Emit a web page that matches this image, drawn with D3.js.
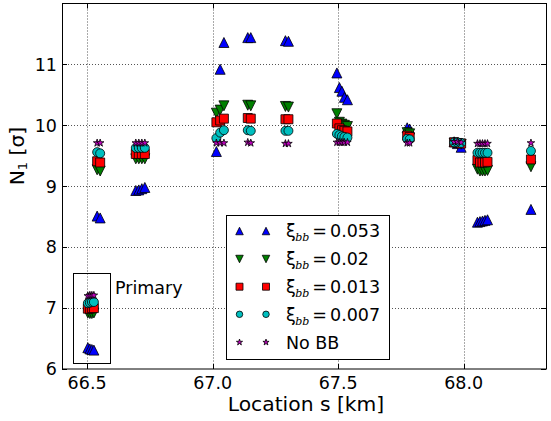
<!DOCTYPE html>
<html>
<head>
<meta charset="utf-8">
<script src="https://cdn.jsdelivr.net/npm/d3@7"></script>
<style>
  html, body { margin: 0; padding: 0; background: #fff; }
  svg { display: block; font-family: "DejaVu Sans", sans-serif; }
</style>
</head>
<body>
<svg id="chart" width="551" height="421"></svg>
<script>
// Beam locations along the ring [km]
const locations = [
  66.503, 66.511, 66.519, 66.527,
  66.540, 66.552,
  66.694, 66.706, 66.718, 66.730,
  67.015, 67.030, 67.045,
  67.140, 67.152,
  67.290, 67.302,
  67.495, 67.505, 67.515, 67.525, 67.537,
  67.775, 67.785,
  67.962, 67.975, 67.990,
  68.055, 68.065, 68.075, 68.085, 68.095,
  68.268
];

// N1 aperture [sigma] for each beam-beam parameter
const xi053 = [
  6.35, 6.33, 6.32, 6.31,
  8.51, 8.48,
  8.93, 8.94, 8.96, 8.98,
  9.57, 10.92, 11.36,
  11.44, 11.44,
  11.39, 11.38,
  10.86, 10.62, 10.56, 10.46, 10.42,
  9.96, 9.94,
  9.73, 9.70, 9.64,
  8.41, 8.42, 8.43, 8.44, 8.45,
  8.62
];
const xi02 = [
  6.92, 6.91, 6.91, 6.92,
  9.27, 9.25,
  9.45, 9.45, 9.45, 9.45,
  10.20, 10.25, 10.32,
  10.33, 10.32,
  10.31, 10.30,
  10.19, 10.05, 10.02, 10.00, 9.98,
  9.88, 9.86,
  9.71, 9.70, 9.69,
  9.28, 9.25, 9.25, 9.25, 9.26,
  9.32
];
const xi013 = [
  6.99, 6.99, 7.00, 7.00,
  9.41, 9.39,
  9.53, 9.53, 9.53, 9.53,
  10.05, 10.08, 10.11,
  10.12, 10.11,
  10.10, 10.10,
  10.03, 9.95, 9.92, 9.91, 9.90,
  9.83, 9.81,
  9.72, 9.71, 9.70,
  9.43, 9.39, 9.39, 9.39, 9.40,
  9.44
];
const xi007 = [
  7.08, 7.09, 7.10, 7.10,
  9.56, 9.54,
  9.63, 9.63, 9.63, 9.63,
  9.79, 9.88, 9.92,
  9.92, 9.91,
  9.91, 9.91,
  9.86, 9.84, 9.82, 9.81, 9.80,
  9.78, 9.77,
  9.72, 9.72, 9.71,
  9.55, 9.55, 9.55, 9.55, 9.55,
  9.58
];
const noBB = [
  7.20, 7.21, 7.21, 7.21,
  9.71, 9.71,
  9.71, 9.71, 9.71, 9.71,
  9.71, 9.71, 9.71,
  9.72, 9.71,
  9.70, 9.70,
  9.72, 9.72, 9.72, 9.72, 9.72,
  9.71, 9.71,
  9.73, 9.73, 9.72,
  9.70, 9.70, 9.70, 9.70, 9.70,
  9.71
];

const xTicks = [66.5, 67.0, 67.5, 68.0];
const xTickLabels = ["66.5", "67.0", "67.5", "68.0"];
const yTicks = [6, 7, 8, 9, 10, 11];
const yTickLabels = ["6", "7", "8", "9", "10", "11"];

// Marker path builders (centered at 0,0)
const markers = {
  up: s => { const h = s / 2; return `M0,${-h}L${h},${h}L${-h},${h}Z`; },
  down: s => { const h = s / 2; return `M0,${h}L${h},${-h}L${-h},${-h}Z`; },
  square: s => { const h = s / 2; return `M${-h},${-h}H${h}V${h}H${-h}Z`; },
  circle: s => { const r = s / 2; return `M${r},0A${r},${r} 0 1,1 ${-r},0A${r},${r} 0 1,1 ${r},0Z`; },
  star: s => {
    const R = s / 2, r = R * 0.382;
    let p = "";
    for (let i = 0; i < 10; i++) {
      const a = -Math.PI / 2 + i * Math.PI / 5;
      const rad = i % 2 === 0 ? R : r;
      p += (i === 0 ? "M" : "L") + (rad * Math.cos(a)).toFixed(2) + "," + (rad * Math.sin(a)).toFixed(2);
    }
    return p + "Z";
  }
};

const series = [
  { values: xi053, marker: "up",     color: "#0000ff", size: 10, legendSize: 7.5, label: "0.053" },
  { values: xi02,  marker: "down",   color: "#008000", size: 10, legendSize: 7.5, label: "0.02" },
  { values: xi013, marker: "square", color: "#ff0000", size: 9,  legendSize: 7,   label: "0.013" },
  { values: xi007, marker: "circle", color: "#00bfbf", size: 9,  legendSize: 6.5, label: "0.007" },
  { values: noBB,  marker: "star",   color: "#bf00bf", size: 8,  legendSize: 6.5, label: null }
];

const svg = d3.select("#chart");
const plot = { left: 62, right: 546, top: 3.5, bottom: 369 };

const x = d3.scaleLinear().domain([66.4, 68.328]).range([plot.left, plot.right]);
const y = d3.scaleLinear().domain([6, 12]).range([plot.bottom, plot.top]);

// Dotted grid
const grid = svg.append("g");
grid.selectAll("line.gx").data(xTicks).join("line")
  .attr("x1", d => Math.round(x(d)) + 0.5).attr("x2", d => Math.round(x(d)) + 0.5)
  .attr("y1", plot.top).attr("y2", plot.bottom)
  .attr("stroke", "#555").attr("stroke-width", 1).attr("stroke-dasharray", "1,2");
grid.selectAll("line.gy").data(yTicks.slice(1)).join("line")
  .attr("y1", d => Math.round(y(d)) + 0.5).attr("y2", d => Math.round(y(d)) + 0.5)
  .attr("x1", plot.left).attr("x2", plot.right)
  .attr("stroke", "#555").attr("stroke-width", 1).attr("stroke-dasharray", "1,2");

// Data markers
series.forEach(s => {
  svg.append("g").selectAll("path").data(locations).join("path")
    .attr("d", markers[s.marker](s.size))
    .attr("transform", (d, i) => `translate(${x(d)},${y(s.values[i])})`)
    .attr("fill", s.color)
    .attr("stroke", "#000")
    .attr("stroke-width", 0.8);
});

// Frame
svg.append("rect")
  .attr("x", plot.left + 0.5).attr("y", plot.top)
  .attr("width", plot.right - plot.left).attr("height", plot.bottom - plot.top)
  .attr("fill", "none").attr("stroke", "#000").attr("stroke-width", 1);

// Inward ticks on all sides
const tickLen = 5;
const ticks = svg.append("g").attr("stroke", "#000").attr("stroke-width", 1);
xTicks.forEach(t => {
  const px = Math.round(x(t)) + 0.5;
  ticks.append("line").attr("x1", px).attr("x2", px).attr("y1", plot.bottom).attr("y2", plot.bottom - tickLen);
  ticks.append("line").attr("x1", px).attr("x2", px).attr("y1", plot.top).attr("y2", plot.top + tickLen);
});
yTicks.forEach(t => {
  const py = Math.round(y(t)) + 0.5;
  ticks.append("line").attr("y1", py).attr("y2", py).attr("x1", plot.left).attr("x2", plot.left + tickLen);
  ticks.append("line").attr("y1", py).attr("y2", py).attr("x1", plot.right).attr("x2", plot.right - tickLen);
});

// Tick labels
svg.append("g").selectAll("text").data(xTicks).join("text")
  .attr("x", d => x(d)).attr("y", 389)
  .attr("text-anchor", "middle").attr("font-size", 17.5)
  .text((d, i) => xTickLabels[i]);
svg.append("g").selectAll("text").data(yTicks).join("text")
  .attr("x", 57).attr("y", d => y(d) + 6.3)
  .attr("text-anchor", "end").attr("font-size", 17.5)
  .text((d, i) => yTickLabels[i]);

// Axis titles
svg.append("text")
  .attr("x", 306).attr("y", 411)
  .attr("text-anchor", "middle").attr("font-size", 20.3)
  .text("Location s [km]");

const yTitle = svg.append("text")
  .attr("transform", "translate(24,156) rotate(-90)")
  .attr("text-anchor", "middle").attr("font-size", 20.3);
yTitle.append("tspan").text("N");
yTitle.append("tspan").attr("font-size", 13).attr("dy", 3).text("1");
yTitle.append("tspan").attr("dy", -3).text(" [σ]");

// Highlight box around the primary location
svg.append("rect")
  .attr("x", 73.5).attr("y", 273.5).attr("width", 37).attr("height", 90)
  .attr("fill", "none").attr("stroke", "#000").attr("stroke-width", 1);
svg.append("text")
  .attr("x", 115).attr("y", 294).attr("font-size", 17.5)
  .text("Primary");

// Legend
const legend = svg.append("g");
legend.append("rect")
  .attr("x", 226.5).attr("y", 215.5).attr("width", 163).attr("height", 144)
  .attr("fill", "#fff").attr("stroke", "#000").attr("stroke-width", 1);
const rowY = [231, 259, 286.7, 314.3, 342.3];
series.forEach((s, i) => {
  [239.5, 266].forEach(mx => {
    legend.append("path")
      .attr("d", markers[s.marker](s.legendSize))
      .attr("transform", `translate(${mx},${rowY[i]})`)
      .attr("fill", s.color).attr("stroke", "#000").attr("stroke-width", 0.8);
  });
  const t = legend.append("text")
    .attr("x", 286).attr("y", rowY[i] + 6.3).attr("font-size", 17.5);
  if (s.label) {
    t.append("tspan").text("ξ");
    t.append("tspan").attr("font-size", 11).attr("font-style", "italic")
      .attr("font-family", "DejaVu Serif").attr("dy", 4).attr("dx", -0.5).text("bb");
    t.append("tspan").attr("dy", -4).attr("dx", 3).text("=");
    t.append("tspan").attr("dx", 3).text(s.label);
  } else {
    t.text("No BB");
  }
});
</script>
</body>
</html>
